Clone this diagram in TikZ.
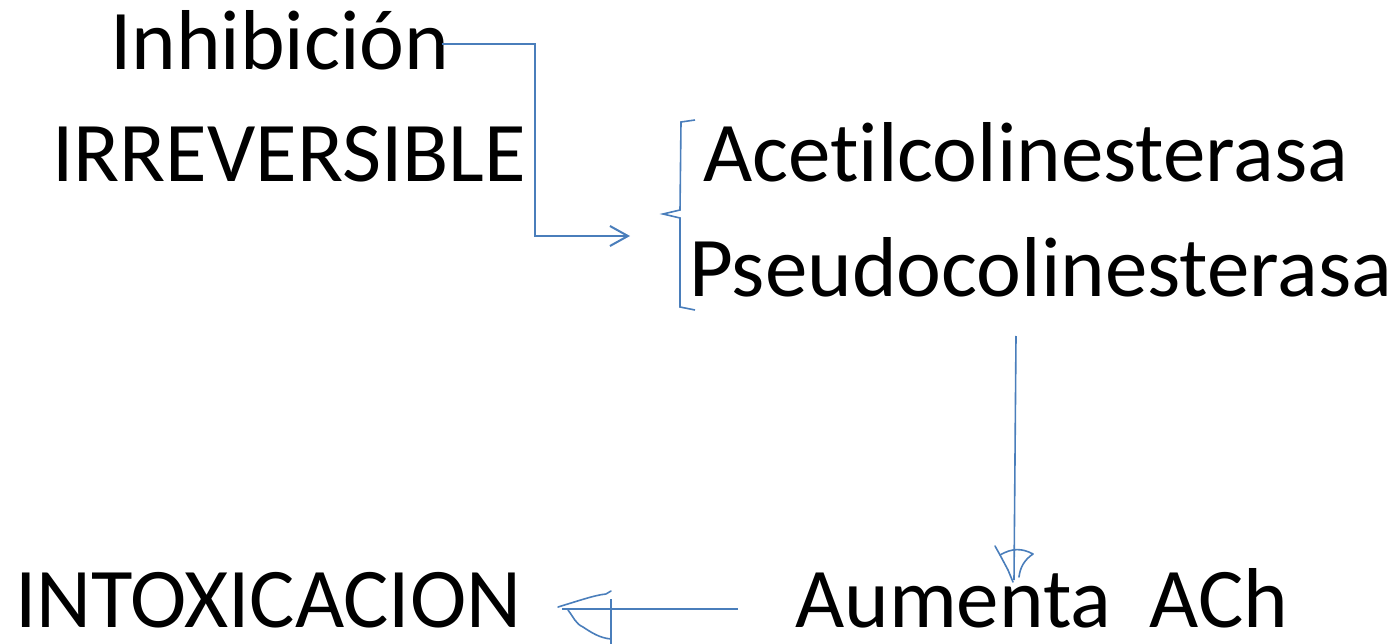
\documentclass[tikz,border=0pt]{standalone}
\usepackage{fontspec}
\setmainfont[Ligatures={NoCommon}]{Carlito}
\usetikzlibrary{arrows,arrows.meta}
\definecolor{azul}{HTML}{4A7EBB}

\begin{document}
\begin{tikzpicture}[x=1pt,y=-1pt,
    texto/.style={anchor=base west,inner sep=0pt,font=\fontsize{85}{100}\selectfont},
    linea/.style={draw=azul,line width=2pt},
    trazo/.style={draw=azul,line width=1.6pt,line cap=round,line join=round}]
  \useasboundingbox (0,0) rectangle (1400,644);
  \node[texto] (inhib) at (110,70) {Inhibición};
  \node[texto] (irrev) at (52,182) {IRREVERSIBLE};
  \node[texto] (acetil) at (703,182) {Acetilcolinesterasa};
  \node[texto] (pseudo) at (689,297) {Pseudocolinesterasa};
  \node[texto] (intox) at (15,627) {INTOXICACION};
  \node[texto] (aumenta) at (795,627) {Aumenta\ \ ACh};
  \coordinate (codo) at (535,44);
  \coordinate (llave) at (630,236);
  \coordinate (bajada) at (1016,336);
  \coordinate (punta) at (1014,580);
  \coordinate (salida) at (738,609);
  \coordinate (llegada) at (562,609);
  % flecha de inhibicion
  \draw[linea,-{Straight Barb[length=18pt,width=20pt,line width=2pt]}]
    ([xshift=-8pt]inhib.east |- codo) -- (codo) |- (llave);
  % llave
  \draw[linea,line width=1.6pt] (695,120) -- (681,122) -- (680,210) -- (663,214)
    -- (680,218) -- (680,307) -- (695,310);
  % flecha hacia aumenta
  \draw[linea,line width=1.6pt] (bajada) -- (punta);
  \draw[trazo] (995,546) -- (1000,555) -- (1008,570) -- (1013,582);
  \draw[trazo] (1000,555) .. controls (1012,548) and (1022,548) .. (1033,554)
    .. controls (1024,560) and (1020,568) .. (1019,577);
  % flecha hacia intoxicacion
  \draw[linea] (salida) -- (llegada);
  \draw[linea] (611,599) -- (611,644);
  \draw[trazo] (558,607) .. controls (578,601) and (595,595) .. (606,594) -- (611,591);
  \draw[trazo] (568,610) .. controls (574,618) and (576,624) .. (583,627)
    .. controls (592,633) and (600,638) .. (611,639);
\end{tikzpicture}
\end{document}
